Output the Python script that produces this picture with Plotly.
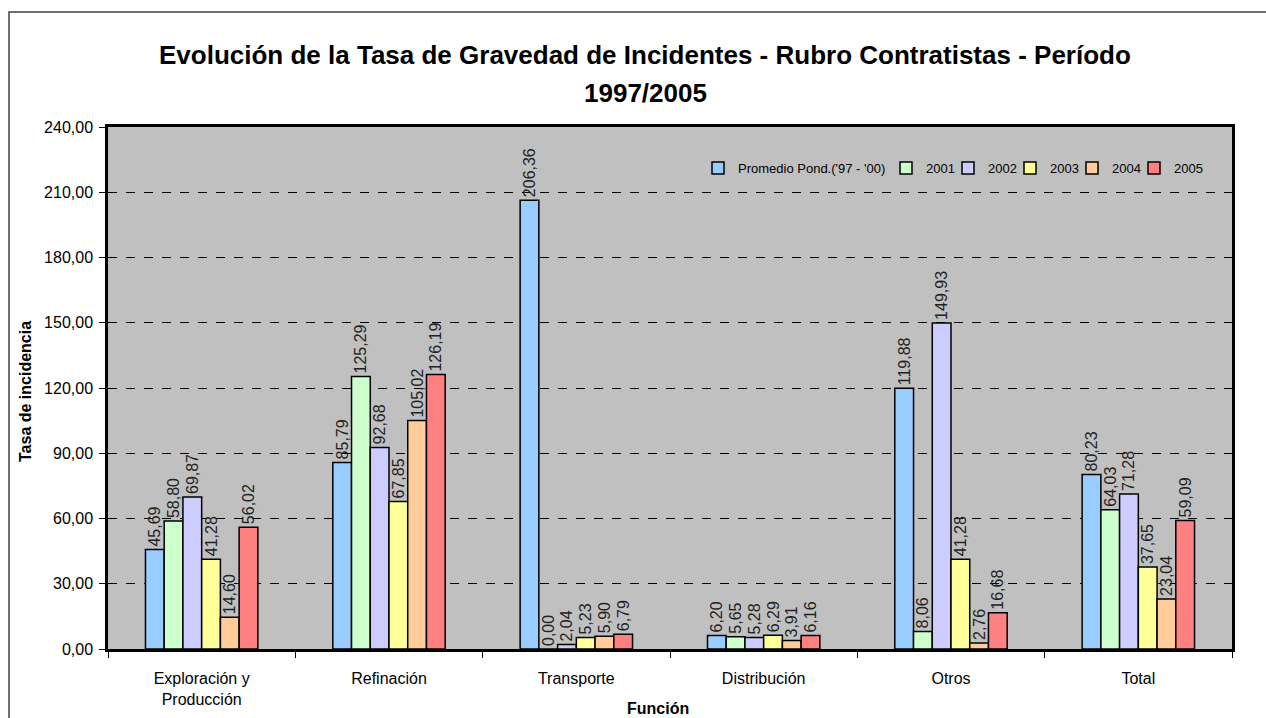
import plotly.graph_objects as go

categories = ["Exploración y<br>Producción", "Refinación", "Transporte", "Distribución", "Otros", "Total"]
series_names = ["Promedio Pond.('97 - '00)", "2001", "2002", "2003", "2004", "2005"]
promedio = [45.69, 85.79, 206.36, 6.20, 119.88, 80.23]
y2001 = [58.80, 125.29, 0.00, 5.65, 8.06, 64.03]
y2002 = [69.87, 92.68, 2.04, 5.28, 149.93, 71.28]
y2003 = [41.28, 67.85, 5.23, 6.29, 41.28, 37.65]
y2004 = [14.60, 105.02, 5.90, 3.91, 2.76, 23.04]
y2005 = [56.02, 126.19, 6.79, 6.16, 16.68, 59.09]
series_values = [promedio, y2001, y2002, y2003, y2004, y2005]
colors = ["#99CCFF", "#CCFFCC", "#CCCCFF", "#FFFF99", "#FFCC99", "#FF8080"]
legend_widths = [143, 17, 17, 17, 17, 34]

FONT = "Liberation Sans, Arial, sans-serif"

fig = go.Figure()
for name, vals, col, lw in zip(series_names, series_values, colors, legend_widths):
    fig.add_trace(go.Bar(
        x=categories, y=vals, name=name,
        marker=dict(color=col, line=dict(color="black", width=1.5)),
        texttemplate="%{y:.2f}", textposition="outside", textangle=-90,
        constraintext="none", cliponaxis=False,
        textfont=dict(family=FONT, size=16, color="#222222"),
        legendwidth=lw,
    ))

L, R, T, B = 108, 34, 127, 69
W, H = 1266, 718
pw, ph = W - L - R, H - T - B

def px(x):
    return (x - L) / pw

def py(y):
    return (H - B - y) / ph

fig.update_layout(
    width=W, height=H,
    margin=dict(l=L, r=R, t=T, b=B, autoexpand=False),
    paper_bgcolor="white", plot_bgcolor="#C0C0C0",
    separators=",.",
    barmode="group", bargap=0.4, bargroupgap=0,
    font=dict(family=FONT, size=16, color="black"),
    showlegend=True,
    legend=dict(
        orientation="h", x=px(698), xanchor="left", y=py(168), yanchor="middle",
        bgcolor="rgba(0,0,0,0)", font=dict(family=FONT, size=13, color="black"),
        itemwidth=30, traceorder="normal",
    ),
    xaxis=dict(
        showline=True, linecolor="black", linewidth=2.5, mirror=True,
        ticks="outside", tickson="boundaries", ticklen=6, tickcolor="black", tickwidth=1,
        tickfont=dict(family=FONT, size=16, color="black"),
        ticklabelstandoff=13,
        showgrid=False,
    ),
    yaxis=dict(
        range=[0, 240], dtick=30, tickformat=".2f",
        showline=True, linecolor="black", linewidth=2.5, mirror=True,
        ticks="outside", ticklen=6, tickcolor="black", tickwidth=1,
        tickfont=dict(family=FONT, size=16, color="black"),
        ticklabelstandoff=3,
        showgrid=True, gridcolor="black", gridwidth=1, griddash="dash",
        zeroline=False,
    ),
    annotations=[
        dict(text="<b>Evolución de la Tasa de Gravedad de Incidentes - Rubro Contratistas - Período</b>",
             x=px(645), y=py(55), xref="paper", yref="paper", showarrow=False,
             xanchor="center", yanchor="middle", font=dict(family=FONT, size=26, color="black")),
        dict(text="<b>1997/2005</b>",
             x=px(645), y=py(93), xref="paper", yref="paper", showarrow=False,
             xanchor="center", yanchor="middle", font=dict(family=FONT, size=26, color="black")),
        dict(text="<b>Tasa de incidencia</b>", textangle=-90,
             x=px(25), y=py(392), xref="paper", yref="paper", showarrow=False,
             xanchor="center", yanchor="middle", font=dict(family=FONT, size=16, color="black")),
        dict(text="<b>Función</b>",
             x=px(658), y=py(708), xref="paper", yref="paper", showarrow=False,
             xanchor="center", yanchor="middle", font=dict(family=FONT, size=16, color="black")),
    ],
    shapes=[
        dict(type="rect", xref="paper", yref="paper",
             x0=px(9), x1=px(1290), y0=py(740), y1=py(12),
             line=dict(color="#404040", width=1.5), fillcolor="rgba(0,0,0,0)", layer="below"),
    ],
)

fig.write_html("out.html", config={"displayModeBar": False},
               post_script="document.body.style.margin='0px';document.body.style.overflow='hidden';")
